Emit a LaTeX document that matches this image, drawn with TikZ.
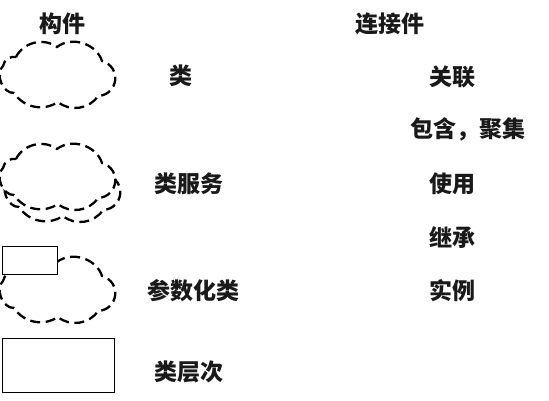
\documentclass[tikz,border=0pt]{standalone}
\usepackage{fontspec}
\newfontfamily\cjk{Noto Sans CJK SC}
\tikzset{
  lbl/.style={font=\cjk\bfseries\fontsize{23}{26}\selectfont, text=black!90, inner sep=0pt, anchor=center},
  cloudline/.style={draw=black, line width=2.3pt, dash pattern=on 10pt off 5.5pt},
  boxline/.style={draw=black, line width=1pt, fill=white},
}
\newcommand\cloudpath{(-41,18) to[bend left=50] (0,28) to[bend left=55] (45,14) to[bend left=80,looseness=1.5] (41,-21) to[bend left=48] (1,-27) to[bend left=45] (-43,-18) to[bend left=70] (-54,9) to[bend left=45] (-41,18)}
\begin{document}
\begin{tikzpicture}[x=1pt,y=1pt]
\useasboundingbox (0,0) rectangle (549,400);
% cloud 1: class
\begin{scope}[shift={(57,325)}]
  \path[cloudline, fill=white] \cloudpath;
\end{scope}
% cloud 2: class services (back then front)
\begin{scope}[shift={(62,211)}]
  \path[cloudline, fill=white] \cloudpath;
\end{scope}
\begin{scope}[shift={(57,223)}]
  \path[cloudline, fill=white] \cloudpath;
\end{scope}
% cloud 3: parameterized class
\begin{scope}[shift={(57,110)}]
  \path[cloudline, fill=white] \cloudpath;
\end{scope}
\node[boxline, minimum width=55pt, minimum height=28pt, inner sep=0pt, anchor=south west] (param) at (2,125) {};
% class hierarchy box
\node[boxline, minimum width=112pt, minimum height=54pt, inner sep=0pt, anchor=south west] (hier) at (2,7) {};
% labels
\node[lbl] (h1) at (62,376) {构件};
\node[lbl] (h2) at (390,376) {连接件};
\node[lbl] (l1) at (181,324) {类};
\node[lbl] (l2) at (189,216) {类服务};
\node[lbl] (l3) at (193.5,109) {参数化类};
\node[lbl] (l4) at (189,28) {类层次};
\node[lbl] (r1) at (452,323) {关联};
\node[lbl] (r2) at (468,271) {包含，聚集};
\node[lbl] (r3) at (452,216) {使用};
\node[lbl] (r4) at (452,162) {继承};
\node[lbl] (r5) at (452,109) {实例};
\end{tikzpicture}
\end{document}
